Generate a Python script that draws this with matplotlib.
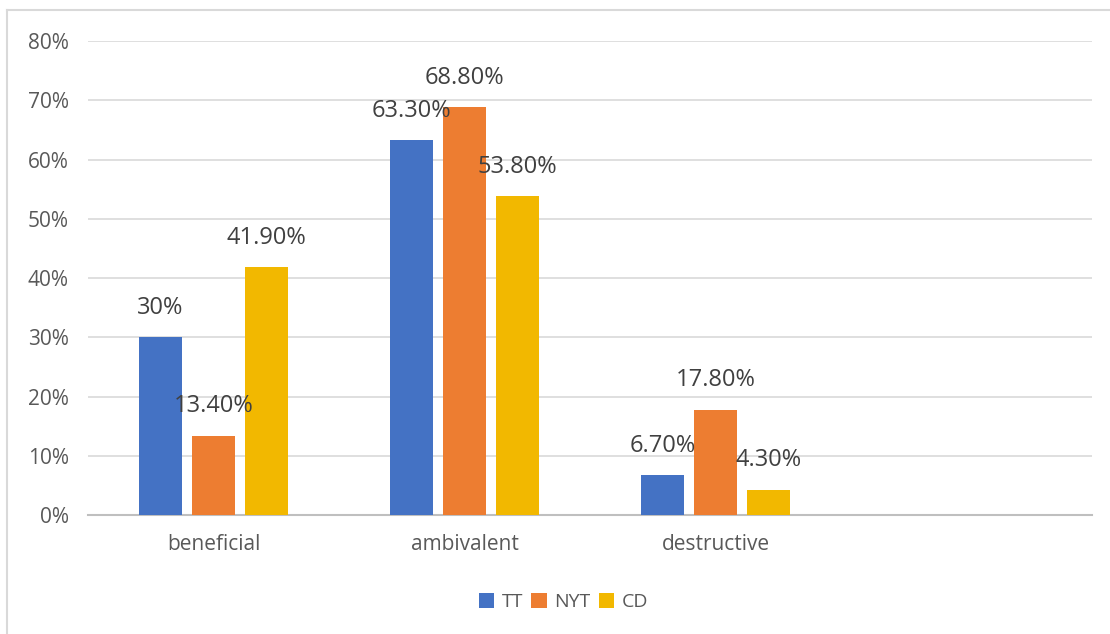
import numpy as np
import matplotlib.pyplot as plt
import matplotlib as mpl
from matplotlib.lines import Line2D
from matplotlib.ticker import FuncFormatter

mpl.rcParams['font.family'] = ['Open Sans', 'DejaVu Sans']

categories = ['beneficial', 'ambivalent', 'destructive', '']
series = ['TT', 'NYT', 'CD']
tt = [30.0, 63.3, 6.7]
nyt = [13.4, 68.8, 17.8]
cd = [41.9, 53.8, 4.3]
value_labels = [['30%', '63.30%', '6.70%'],
                ['13.40%', '68.80%', '17.80%'],
                ['41.90%', '53.80%', '4.30%']]
colors = ['#4472C4', '#ED7D31', '#F2B800']

fig = plt.figure(figsize=(11.1, 6.34), dpi=100)
ax = fig.add_axes([0.0793, 0.1877, 0.9045, 0.7476])

x = np.arange(len(categories))
width = 0.171
step = 0.211
for i, (vals, name) in enumerate(zip([tt, nyt, cd], series)):
    xs = x[:3] + (i - 1) * step
    ax.bar(xs, vals, width, color=colors[i], label=name, zorder=3)
    for xx, v, lab in zip(xs, vals, value_labels[i]):
        ax.annotate(lab, (xx, v), xytext=(0, 21), textcoords='offset points',
                    ha='center', va='center', fontsize=17, color='#404040', zorder=4)

ax.set_xlim(-0.5, 3.5)
ax.set_ylim(0, 80)
ax.set_yticks(np.arange(0, 81, 10))
ax.yaxis.set_major_formatter(FuncFormatter(lambda v, p: f'{v:.0f}%'))
ax.set_xticks(x)
ax.set_xticklabels(categories)
ax.tick_params(axis='both', length=0, labelsize=15, labelcolor='#595959')
ax.tick_params(axis='x', pad=14)
ax.tick_params(axis='y', pad=14)
ax.grid(axis='y', color='#D9D9D9', linewidth=1.2, zorder=0)
for s in ['top', 'right', 'left']:
    ax.spines[s].set_visible(False)
ax.spines['bottom'].set_color('#BFBFBF')
ax.spines['bottom'].set_linewidth(1.5)

ax.legend(loc='center', bbox_to_anchor=(0.4736, -0.183), ncol=3, frameon=False,
          fontsize=14, labelcolor='#595959', handlelength=0.8, handleheight=0.8,
          handletextpad=0.4, columnspacing=0.4)

# chart frame (top and left edges visible)
fig.add_artist(Line2D([0.0063, 1.0], [0.984, 0.984], color='#D9D9D9', linewidth=1.5))
fig.add_artist(Line2D([0.0063, 0.0063], [0.0, 0.984], color='#D9D9D9', linewidth=1.5))

fig.savefig('out.png', dpi=100)
